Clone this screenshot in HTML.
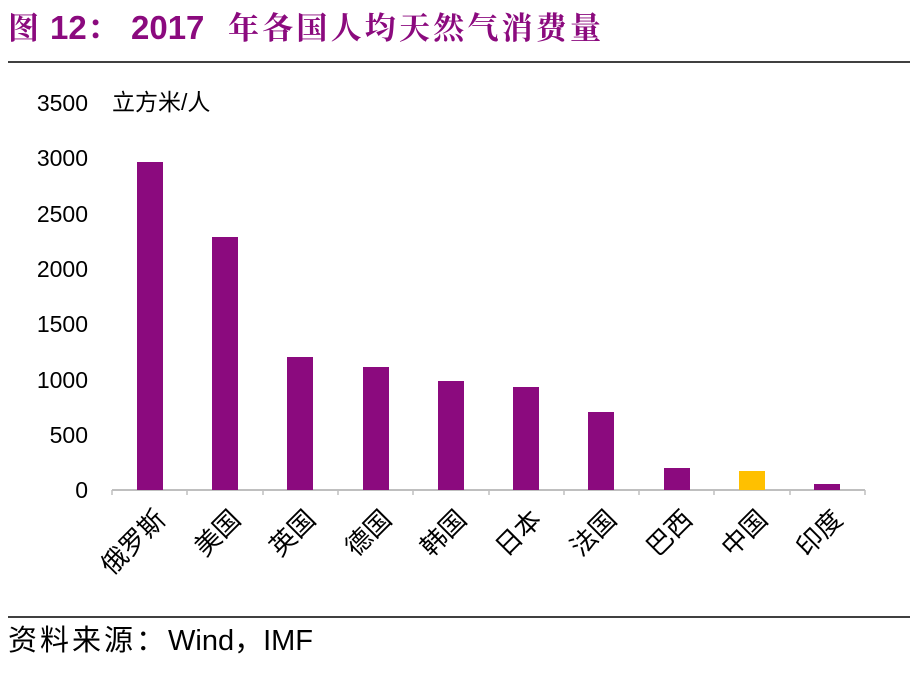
<!DOCTYPE html>
<html><head><meta charset="utf-8"><style>
body{margin:0;background:#fff;width:919px;height:671px;overflow:hidden;}
</style></head><body>
<svg width="919" height="671" xmlns="http://www.w3.org/2000/svg" font-family="Liberation Sans, Noto Sans CJK SC, sans-serif">
<g font-size="31" font-weight="bold" fill="#8B0A7E" font-family="Liberation Sans, Noto Serif CJK SC, serif">
<text x="8" y="39">图</text>
<text x="50" y="39" font-size="33">12：</text>
<text x="131" y="39" font-size="33">2017</text>
<text x="228" y="39" letter-spacing="3.2">年各国人均天然气消费量</text>
</g>
<line x1="8" y1="62" x2="910" y2="62" stroke="#000" stroke-width="1.5"/>
<line x1="8" y1="617" x2="910" y2="617" stroke="#000" stroke-width="1.5"/>
<text x="8" y="650" font-size="29" fill="#000"><tspan letter-spacing="3">资料来源：</tspan><tspan>Wind，IMF</tspan></text>
<g font-size="23" fill="#000" text-anchor="end">
<text x="88" y="498">0</text>
<text x="88" y="443">500</text>
<text x="88" y="388">1000</text>
<text x="88" y="332">1500</text>
<text x="88" y="277">2000</text>
<text x="88" y="222">2500</text>
<text x="88" y="166">3000</text>
<text x="88" y="111">3500</text>
</g>
<text x="112" y="110" font-size="23" fill="#000">立方米/人</text>
<line x1="112" y1="490" x2="865" y2="490" stroke="#BFBFBF" stroke-width="2"/>
<g stroke="#BFBFBF" stroke-width="1.5">
<line x1="112" y1="490" x2="112" y2="495"/><line x1="187" y1="490" x2="187" y2="495"/><line x1="263" y1="490" x2="263" y2="495"/><line x1="338" y1="490" x2="338" y2="495"/><line x1="413" y1="490" x2="413" y2="495"/><line x1="489" y1="490" x2="489" y2="495"/><line x1="564" y1="490" x2="564" y2="495"/><line x1="639" y1="490" x2="639" y2="495"/><line x1="714" y1="490" x2="714" y2="495"/><line x1="790" y1="490" x2="790" y2="495"/><line x1="865" y1="490" x2="865" y2="495"/>
</g>
<g fill="#8B0A7E">
<rect x="137" y="162" width="26" height="328"/>
<rect x="212" y="237" width="26" height="253"/>
<rect x="287" y="357" width="26" height="133"/>
<rect x="363" y="367" width="26" height="123"/>
<rect x="438" y="381" width="26" height="109"/>
<rect x="513" y="387" width="26" height="103"/>
<rect x="588" y="412" width="26" height="78"/>
<rect x="664" y="468" width="26" height="22"/>
<rect x="814" y="484" width="26" height="6"/>
</g>
<rect x="739" y="471" width="26" height="19" fill="#FFC000"/>
<g font-size="26" fill="#000" text-anchor="end">
<text transform="translate(167,521) rotate(-45)">俄罗斯</text>
<text transform="translate(242,521) rotate(-45)">美国</text>
<text transform="translate(317,521) rotate(-45)">英国</text>
<text transform="translate(393,521) rotate(-45)">德国</text>
<text transform="translate(468,521) rotate(-45)">韩国</text>
<text transform="translate(543,521) rotate(-45)">日本</text>
<text transform="translate(618,521) rotate(-45)">法国</text>
<text transform="translate(694,521) rotate(-45)">巴西</text>
<text transform="translate(769,521) rotate(-45)">中国</text>
<text transform="translate(844,521) rotate(-45)">印度</text>
</g>
</svg>
</body></html>
